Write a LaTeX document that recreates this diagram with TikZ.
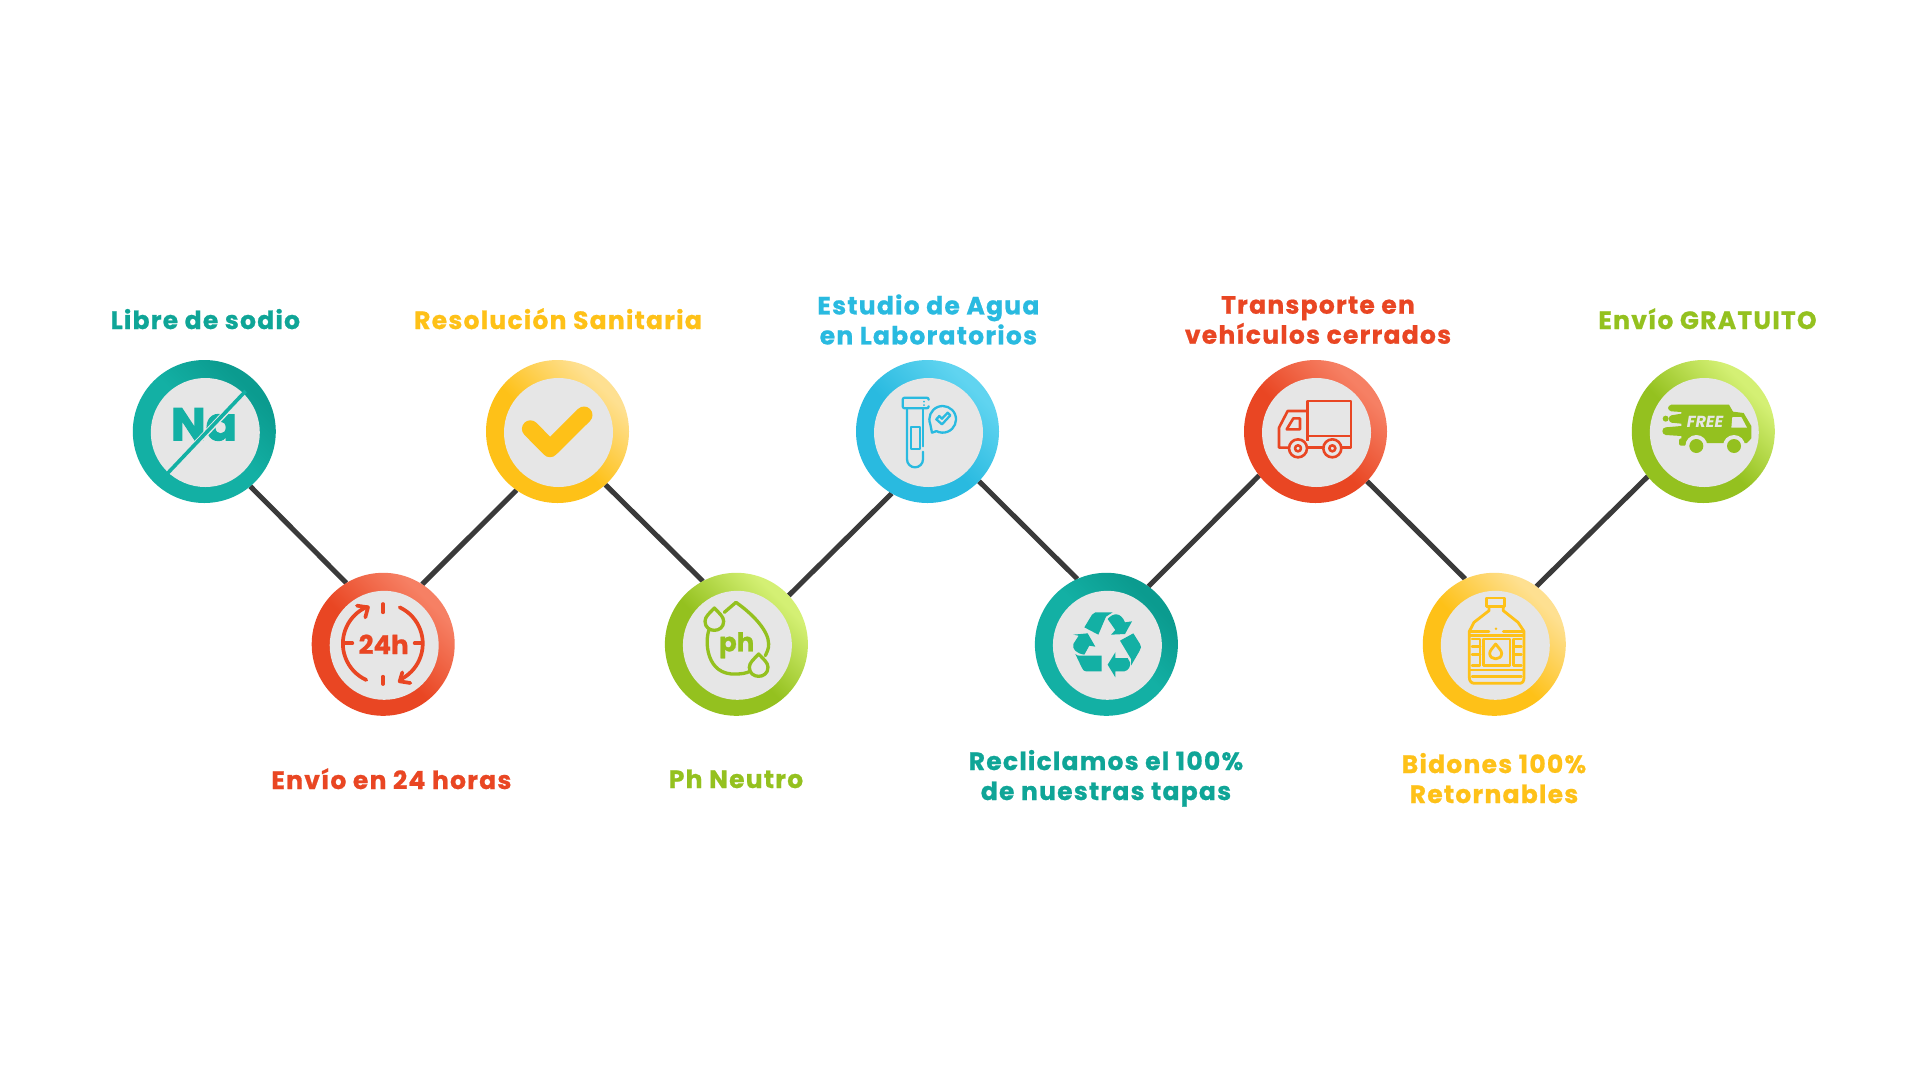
\documentclass[tikz,border=0pt]{standalone}
\usepackage{fontspec}
\usetikzlibrary{backgrounds}
\newfontfamily\labelfont[LetterSpace=5,BoldFeatures={FakeBold=0.8}]{Poppins}
\newfontfamily\iconfont[BoldFeatures={FakeBold=0.8}]{Poppins}
\newfontfamily\nafont[BoldFeatures={FakeBold=2}]{Poppins}
\definecolor{tealc}{HTML}{13B0A4}
\definecolor{teald}{HTML}{0B9B8F}
\definecolor{teallabel}{HTML}{0FA597}
\definecolor{redc}{HTML}{E94623}
\definecolor{redl}{HTML}{F68064}
\definecolor{yellowc}{HTML}{FEC118}
\definecolor{yellowl}{HTML}{FEE091}
\definecolor{bluec}{HTML}{29BAE0}
\definecolor{bluel}{HTML}{60D4F0}
\definecolor{greenc}{HTML}{94C11F}
\definecolor{greenl}{HTML}{D4F074}
\definecolor{innerc}{HTML}{E6E6E6}
\definecolor{linkc}{HTML}{3A3A3A}
% ring gradients, plain colour up to the middle and then the lighter one
\pgfdeclarehorizontalshading{ringteal}{100bp}{color(0bp)=(tealc); color(52bp)=(tealc); color(72bp)=(teald); color(100bp)=(teald)}
\pgfdeclarehorizontalshading{ringred}{100bp}{color(0bp)=(redc); color(47bp)=(redc); color(72bp)=(redl); color(100bp)=(redl)}
\pgfdeclarehorizontalshading{ringyellow}{100bp}{color(0bp)=(yellowc); color(47bp)=(yellowc); color(72bp)=(yellowl); color(100bp)=(yellowl)}
\pgfdeclarehorizontalshading{ringblue}{100bp}{color(0bp)=(bluec); color(47bp)=(bluec); color(72bp)=(bluel); color(100bp)=(bluel)}
\pgfdeclarehorizontalshading{ringgreen}{100bp}{color(0bp)=(greenc); color(47bp)=(greenc); color(72bp)=(greenl); color(100bp)=(greenl)}
\tikzset{
  ringnode/.style={circle, minimum size=143pt, inner sep=0pt, outer sep=0pt, shading angle=45},
  innernode/.style={circle, fill=innerc, minimum size=109pt, inner sep=0pt, outer sep=0pt},
  link/.style={linkc, line width=5pt},
  labeltext/.style={font=\labelfont\bfseries\fontsize{25}{30}\selectfont, align=center, anchor=base, inner sep=0pt},
  iconbox/.style={x=0.3333pt, y=-0.3333pt}
}
\begin{document}
\begin{tikzpicture}[x=1pt, y=-1pt]
  \useasboundingbox (0,0) rectangle (1920,1080);
  % stations
  \foreach \nm/\cx/\cy/\shd in {sodio/204.3/431.5/ringteal, horas/383.2/644.3/ringred, sanitaria/557.5/431.5/ringyellow, neutro/736.4/644.3/ringgreen, agua/927.5/431.5/ringblue, tapas/1106.4/644.3/ringteal, cerrados/1315.5/431.5/ringred, bidones/1494.3/644.3/ringyellow, gratis/1703.3/431.5/ringgreen} {
    \node[ringnode, shading=\shd] (\nm) at (\cx,\cy) {};
    \node[innernode] (\nm-in) at (\cx+1,\cy+1) {};
  }
  \begin{scope}[on background layer]
    \fill[white] (0,0) rectangle (1920,1080);
    \foreach \a/\aang/\b/\bang in {sodio/-50/horas/121, horas/57.5/sanitaria/-125, sanitaria/-48/neutro/118.6, neutro/43/agua/-120.5, agua/-44.3/tapas/114, tapas/54.2/cerrados/-142, cerrados/-44.4/bidones/114, bidones/54/gratis/-141.5}
      \draw[link] (\a.\aang) -- (\b.\bang);
  \end{scope}

  % labels, a two-line node sits on its last line
  \node[labeltext, text=teallabel] (lsodio) at (205.4,329) {Libre de sodio};
  \node[labeltext, text=yellowc] (lsanitaria) at (558,329) {Resolución Sanitaria};
  \node[labeltext, text=bluec] (lagua) at (928.4,344.4) {Estudio de Agua\\en Laboratorios};
  \node[labeltext, text=redc] (lcerrados) at (1318,343.7) {Transporte en\\vehículos cerrados};
  \node[labeltext, text=greenc] (lgratis) at (1707.5,329) {Envío GRATUITO};
  \node[labeltext, text=redc] (lhoras) at (391.4,789) {Envío en 24 horas};
  \node[labeltext, text=greenc] (lneutro) at (736,788) {Ph Neutro};
  \node[labeltext, text=teallabel] (ltapas) at (1106,800) {Recliclamos el 100\%\\de nuestras tapas};
  \node[labeltext, text=yellowc] (lbidones) at (1494,803) {Bidones 100\%\\Retornables};

  % Na
  \begin{scope}[shift={(154,381)}, iconbox]
    \node[anchor=base, inner sep=0pt, text=tealc, font=\nafont\bfseries\fontsize{46}{46}\selectfont] (natext) at (150,178) {Na};
    \begin{scope}
      \clip (sodio-in) circle (54.5pt);
      \draw[innerc, line width=6pt] (30,290) -- (290,15);
    \end{scope}
    \draw[tealc, line width=3.6pt] (35,283) -- (275,30);
  \end{scope}

  % check
  \draw[yellowc, line width=17pt, line cap=round, line join=round] (530.4,428.8) -- (550,448.7) -- (584,415);

  % 24h
  \begin{scope}[shift={(333,594)}, iconbox, redc, line width=3.7pt, line cap=round, line join=round]
    \draw (100,258) arc [start angle=245.6, end angle=113, radius=40pt];
    \draw (72,35) -- (105,40) -- (97,70);
    \draw (200,40) arc [start angle=65, end angle=-63, radius=40pt];
    \draw (232,267) -- (200,262) -- (208,235);
    \draw (150,30) -- (150,55);
    \draw (150,248) -- (150,270);
    \draw (32,148) -- (58,148);
    \draw (245,148) -- (268,148);
    \node[anchor=base, inner sep=0pt, text=redc, font=\iconfont\bfseries\fontsize{26}{26}\selectfont] (hourtext) at (152,180) {24h};
  \end{scope}

  % ph
  \begin{scope}[shift={(686,594)}, iconbox, greenc, line width=3.3pt, line cap=round, line join=round]
    \draw (115,55) -- (150,25) .. controls (200,60) and (248,110) .. (248,150) .. controls (248,165) and (243,175) .. (238,185);
    \draw (70,105) .. controls (55,140) and (60,245) .. (150,240) .. controls (165,240) and (180,238) .. (192,232);
    \draw (85,42) .. controls (70,58) and (57,68) .. (57,82) .. controls (57,118) and (113,118) .. (113,82) .. controls (113,68) and (100,58) .. (85,42) -- cycle;
    \draw (218,180) .. controls (203,196) and (190,206) .. (190,220) .. controls (190,256) and (246,256) .. (246,220) .. controls (246,206) and (233,196) .. (218,180) -- cycle;
    \node[anchor=base, inner sep=0pt, text=greenc, font=\iconfont\bfseries\fontsize{26}{26}\selectfont] (phtext) at (152,172) {ph};
  \end{scope}

  % tube
  \begin{scope}[shift={(877,381)}, iconbox, bluec, line width=2.3pt, line cap=round, line join=round]
    \draw[rounded corners=2pt] (155,56) -- (155,50) -- (77,50) -- (77,82) -- (155,82) -- (155,76);
    \fill (141,62) circle (1pt) (141,72) circle (1pt);
    \draw (90,84) -- (90,235) arc [start angle=180, end angle=360, radius=8pt] -- (138,212);
    \draw (138,84) -- (138,196);
    \draw (103,138) rectangle (128,205);
    \draw (165,155) -- (160,130) arc [start angle=202, end angle=-118, radius=13.33pt] -- cycle;
    \draw (178,115) -- (195,130) -- (220,103) -- (212,95) -- (195,113) -- (187,105) -- cycle;
  \end{scope}

  % recycle
  \begin{scope}[shift={(1056,594)}, iconbox]
    \fill[tealc] (85,100) -- (108,62) -- (118,55) -- (170,55) -- (150,68) -- (127,122) -- cycle;
    \fill[tealc] (155,75) .. controls (172,55) and (195,55) .. (207,85) -- (228,82) -- (207,120) -- (165,122) -- (178,108) -- cycle;
    \fill[tealc] (192,140) -- (232,118) -- (252,150) -- (255,160) -- (250,172) -- (225,215) -- (225,195) -- cycle;
    \fill[tealc] (178,175) -- (155,212) -- (178,250) -- (178,232) -- (205,232) .. controls (218,230) and (225,215) .. (222,205) -- (215,192) -- (178,192) -- cycle;
    \fill[tealc] (58,180) .. controls (62,184) and (66,185) .. (70,185) -- (137,185) -- (137,232) -- (90,232) .. controls (85,232) and (80,228) .. (78,222) -- cycle;
    \fill[tealc] (52,122) -- (95,118) -- (118,158) -- (100,155) -- (85,182) .. controls (60,178) and (48,165) .. (52,150) -- (68,125) -- cycle;
  \end{scope}

  % truck
  \begin{scope}[shift={(1265,381)}, iconbox, redc, line width=2.6pt, line join=round]
    \draw (128,60) rectangle (258,165);
    \draw (128,90) -- (68,90) -- (42,140) -- (42,200) -- (72,200);
    \draw (127,200) -- (174,200);
    \draw (230,200) -- (258,200) -- (258,165);
    \draw (128,165) -- (128,180);
    \draw (85,112) -- (105,112) -- (105,145) -- (65,145) -- cycle;
    \draw (99,202) circle (9pt) (99,202) circle (3pt);
    \draw (202,202) circle (9pt) (202,202) circle (3pt);
  \end{scope}

  % bottle
  \begin{scope}[shift={(1444,594)}, iconbox, yellowc, line width=2.8pt, line join=round, line cap=round]
    \draw (128,12) -- (182,12) -- (182,38) -- (128,38) -- cycle;
    \draw (135,38) -- (135,50) -- (90,85) -- (76,112) -- (76,250) .. controls (76,262) and (82,268) .. (92,268) -- (226,268) .. controls (236,268) and (240,262) .. (240,250) -- (240,112) -- (222,85) -- (178,50) -- (178,38);
    \draw (78,112) -- (135,112) (178,112) -- (238,112);
    \fill (156,104) circle (1.4pt);
    \draw (78,125) -- (238,125);
    \draw (118,135) rectangle (198,215);
    \draw (84,135) -- (108,135) -- (108,215) -- (84,215) (84,158) -- (108,158) (84,182) -- (108,182);
    \draw (232,135) -- (208,135) -- (208,215) -- (232,215) (232,158) -- (208,158) (232,182) -- (208,182);
    \draw (78,228) -- (238,228) (84,248) -- (232,248);
    \draw (155,150) .. controls (146,162) and (137,170) .. (137,178) .. controls (137,200) and (173,200) .. (173,178) .. controls (173,170) and (164,162) .. (155,150) -- cycle;
  \end{scope}

  % van
  \begin{scope}[shift={(1653,381)}, iconbox]
    \fill[greenc] (55,71) -- (228,71) -- (240,92) -- (272,96) -- (295,135) -- (295,172) -- (282,186) -- (85,186) -- (85,165) -- (38,162) .. controls (25,160) and (25,140) .. (38,139) -- (85,135) -- (85,128) -- (55,125) .. controls (45,122) and (45,105) .. (55,103) -- (85,98) -- (85,93) -- (55,91) .. controls (42,88) and (42,74) .. (55,71) -- cycle;
    \fill[greenc] (38,113) circle (3pt);
    \fill[greenc, rounded corners=2pt] (78,172) rectangle (100,194);
    \fill[innerc] (130,195) circle (11pt) (243,195) circle (11pt);
    \fill[greenc] (130,195) circle (7pt) (243,195) circle (7pt);
    \fill[innerc] (238,108) -- (265,108) -- (282,140) -- (235,140) -- cycle;
    \node[anchor=base, inner sep=0pt, text=innerc, font=\iconfont\bfseries\itshape\fontsize{16}{16}\selectfont] (freetext) at (156,138) {FREE};
  \end{scope}
\end{tikzpicture}
\end{document}
